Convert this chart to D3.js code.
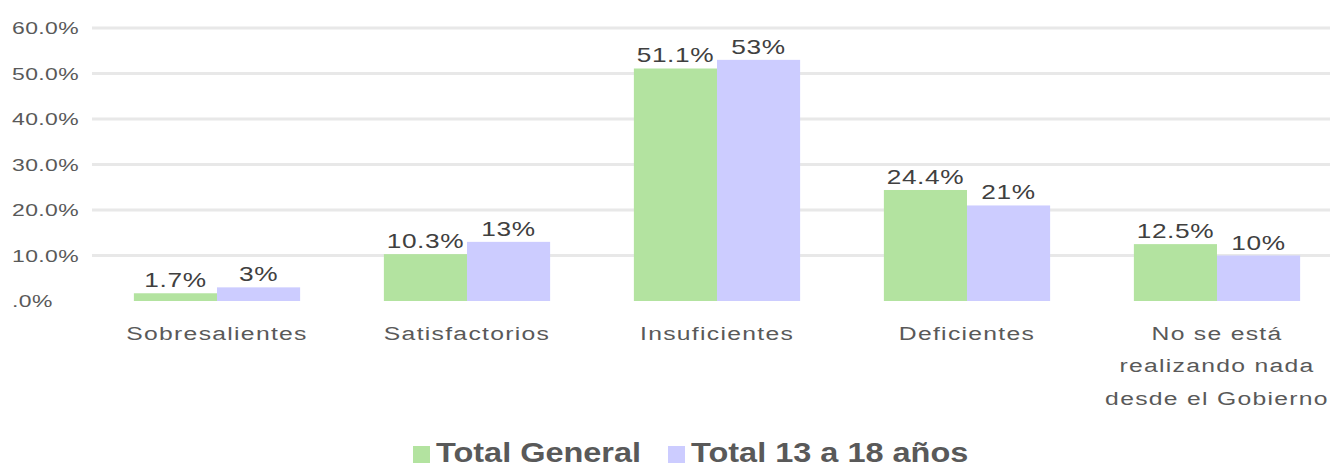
<!DOCTYPE html>
<html>
<head>
<meta charset="utf-8">
<script src="https://cdn.jsdelivr.net/npm/d3@7"></script>
<style>
  body { margin: 0; background: #fff; }
  svg { display: block; }
</style>
</head>
<body>
<svg id="chart" width="1330" height="467"></svg>
<script>
const categories = [
  ['Sobresalientes'],
  ['Satisfactorios'],
  ['Insuficientes'],
  ['Deficientes'],
  ['No se está', 'realizando nada', 'desde el Gobierno']
];
const seriesNames = ['Total General', 'Total 13 a 18 años'];
const totalGeneral = [1.7, 10.3, 51.1, 24.4, 12.5];
const total13a18 = [3, 13, 53, 21, 10];
const labelsGeneral = ['1.7%', '10.3%', '51.1%', '24.4%', '12.5%'];
const labels13a18 = ['3%', '13%', '53%', '21%', '10%'];
const yTicks = [0, 10, 20, 30, 40, 50, 60];
const yTickLabels = ['.0%', '10.0%', '20.0%', '30.0%', '40.0%', '50.0%', '60.0%'];
const colors = ['#b3e3a0', '#ccccff'];

const svg = d3.select('#chart');
const font = '"Liberation Sans", Arial, sans-serif';
const textColor = '#595959';

const margin = { left: 92, right: -12, top: 28, bottom: 166 };
const width = 1330 - margin.left - margin.right;
const height = 467 - margin.top - margin.bottom;

const g = svg.append('g').attr('transform', `translate(${margin.left},${margin.top})`);

const x0 = d3.scaleBand().domain(d3.range(categories.length)).range([0, width]).paddingInner(0.335).paddingOuter(0.1675);
const x1 = d3.scaleBand().domain([0, 1]).range([0, x0.bandwidth()]);
const y = d3.scaleLinear().domain([0, 60]).range([height, 0]);

// gridlines
g.selectAll('.grid').data(yTicks.filter(d => d > 0)).enter()
  .append('line')
  .attr('x1', 0).attr('x2', width)
  .attr('y1', d => y(d)).attr('y2', d => y(d))
  .attr('stroke', '#e8e8e8').attr('stroke-width', 3);

// y labels (left aligned, text in the source is stretched wide)
g.selectAll('.ylab').data(yTicks).enter()
  .append('text')
  .attr('transform', d => `translate(${12 - margin.left},${y(d)}) scale(1.35,1)`)
  .attr('dy', '0.36em')
  .attr('text-anchor', 'start')
  .style('font-family', font).style('font-size', '17px')
  .style('letter-spacing', '0.3px')
  .attr('fill', textColor)
  .text((d, i) => yTickLabels[i]);

const series = [totalGeneral, total13a18];
const seriesLabels = [labelsGeneral, labels13a18];

series.forEach((vals, s) => {
  const grp = g.append('g');
  grp.selectAll('rect').data(vals).enter()
    .append('rect')
    .attr('x', (d, i) => x0(i) + x1(s))
    .attr('width', x1.bandwidth())
    .attr('y', d => y(d))
    .attr('height', d => height - y(d))
    .attr('fill', colors[s]);
  grp.selectAll('text').data(vals).enter()
    .append('text')
    .attr('transform', (d, i) => `translate(${x0(i) + x1(s) + x1.bandwidth() / 2},${y(d) - 6}) scale(1.25,1)`)
    .attr('text-anchor', 'middle')
    .style('font-family', font).style('font-size', '21px')
    .style('letter-spacing', '0.5px')
    .attr('fill', '#404040')
    .text((d, i) => seriesLabels[s][i]);
});

// category labels
categories.forEach((lines, i) => {
  const cx = x0(i) + x0.bandwidth() / 2;
  const t = g.append('text')
    .attr('transform', `translate(${cx},${height + 39}) scale(1.3,1)`)
    .attr('text-anchor', 'middle')
    .style('font-family', font).style('font-size', '19px')
    .style('letter-spacing', '1px')
    .attr('fill', textColor);
  lines.forEach((ln, j) => {
    t.append('tspan')
      .attr('x', 0)
      .attr('dy', j === 0 ? 0 : 32.5)
      .text(ln);
  });
});

// legend
const legend = svg.append('g').attr('transform', 'translate(413,462)');
const legendX = [0, 255];
seriesNames.forEach((name, i) => {
  const lg = legend.append('g').attr('transform', `translate(${legendX[i]},0)`);
  lg.append('rect').attr('x', 0).attr('y', -16).attr('width', 17).attr('height', 17).attr('fill', colors[i]);
  lg.append('text')
    .attr('transform', 'translate(23,0) scale(1.16,1)')
    .style('font-family', font).style('font-size', '28px').style('font-weight', 'bold')
    .attr('fill', textColor)
    .text(name);
});
</script>
</body>
</html>
